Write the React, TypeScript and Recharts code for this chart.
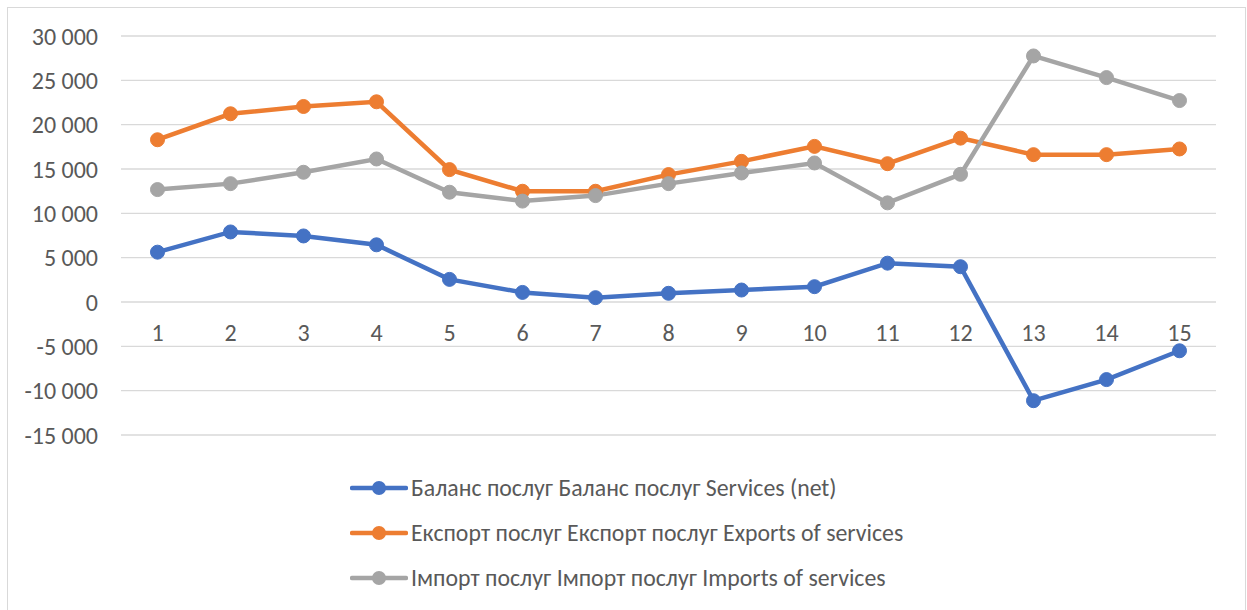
import React from 'react';
import { LineChart, Line, XAxis, YAxis, CartesianGrid, Legend } from 'recharts';

const categories = ['1', '2', '3', '4', '5', '6', '7', '8', '9', '10', '11', '12', '13', '14', '15'];
const balance = [5620, 7900, 7450, 6450, 2550, 1080, 490, 980, 1350, 1730, 4380, 3980, -11130, -8750, -5500];
const exportsSvc = [18300, 21230, 22050, 22580, 14930, 12490, 12490, 14370, 15860, 17550, 15600, 18480, 16620, 16620, 17260];
const importsSvc = [12680, 13350, 14630, 16130, 12380, 11380, 12000, 13350, 14550, 15680, 11180, 14400, 27750, 25310, 22720];
const yTicks = [-15000, -10000, -5000, 0, 5000, 10000, 15000, 20000, 25000, 30000];

const seriesNames = [
    'Баланс послуг Баланс послуг Services (net)',
    'Експорт послуг Експорт послуг Exports of services',
    'Імпорт послуг Імпорт послуг Imports of services',
];

const COLORS = ['#4472C4', '#ED7D31', '#A5A5A5'];
const TEXT = '#595959';
const FONT = 'Carlito, Calibri, Lato, sans-serif';

const data = categories.map((c, i) => ({
    name: c,
    balance: balance[i],
    exports: exportsSvc[i],
    imports: importsSvc[i],
}));

const fmt = (n: number) => {
    const s = Math.abs(n).toString().replace(/\B(?=(\d{3})+(?!\d))/g, ' ');
    return (n < 0 ? '-' : '') + s;
};

// category labels sit next to the zero line, like Excel does
const XTick = (props: any) => {
    const { x, y, payload } = props;
    return (
        <text x={x} y={y} dy={-102} textAnchor="middle" fill={TEXT} fontSize={24} fontFamily={FONT}>
            {payload.value}
        </text>
    );
};

const renderLegend = (props: any) => {
    const items = [...(props.payload || [])].sort(
        (a: any, b: any) => seriesNames.indexOf(a.value) - seriesNames.indexOf(b.value)
    );
    return (
        <div>
            {items.map((entry: any, index: number) => (
                <div key={`item-${index}`} style={{ display: 'flex', alignItems: 'center', height: 45 }}>
                    <svg width={58} height={16}>
                        <line x1={2} x2={56} y1={8} y2={8} stroke={entry.color} strokeWidth={4.5} strokeLinecap="round" />
                        <circle cx={29} cy={8} r={7} fill={entry.color} />
                    </svg>
                    <span style={{ marginLeft: 3, fontSize: 23.8, color: TEXT, fontFamily: FONT, whiteSpace: 'nowrap' }}>
                        {entry.value}
                    </span>
                </div>
            ))}
        </div>
    );
};

const App = () => {
    return (
        <div style={{ position: 'absolute', left: 0, top: 0, width: 1247, height: 610, background: '#fff', overflow: 'hidden' }}>
            <div
                style={{
                    position: 'absolute',
                    left: 7,
                    top: 7,
                    width: 1239,
                    height: 620,
                    border: '1px solid #d9d9d9',
                    boxSizing: 'border-box',
                }}
            />
            <div style={{ position: 'absolute', left: 0, top: 0 }}>
                <LineChart width={1247} height={610} data={data} margin={{ top: 36, right: 31, bottom: 10, left: 0 }}>
                    <CartesianGrid vertical={false} stroke="#d9d9d9" strokeWidth={1.3} />
                    <XAxis
                        dataKey="name"
                        axisLine={false}
                        tickLine={false}
                        tick={<XTick />}
                        interval={0}
                        padding={{ left: 36.5, right: 36.5 }}
                    />
                    <YAxis
                        width={121}
                        domain={[-15000, 30000]}
                        ticks={yTicks}
                        tickFormatter={fmt}
                        axisLine={false}
                        tickLine={false}
                        tickSize={0}
                        tickMargin={23}
                        tick={{ fill: TEXT, fontSize: 24, fontFamily: FONT }}
                        interval={0}
                    />
                    <Legend
                        content={renderLegend}
                        verticalAlign="bottom"
                        wrapperStyle={{ left: 350, top: 465, bottom: 'auto', right: 'auto', width: 'auto' }}
                    />
                    <Line
                        name={seriesNames[0]}
                        dataKey="balance"
                        stroke={COLORS[0]}
                        strokeWidth={4.5}
                        dot={{ r: 7, fill: COLORS[0], stroke: COLORS[0], strokeWidth: 1 }}
                        activeDot={false}
                        isAnimationActive={false}
                    />
                    <Line
                        name={seriesNames[1]}
                        dataKey="exports"
                        stroke={COLORS[1]}
                        strokeWidth={4.5}
                        dot={{ r: 7, fill: COLORS[1], stroke: COLORS[1], strokeWidth: 1 }}
                        activeDot={false}
                        isAnimationActive={false}
                    />
                    <Line
                        name={seriesNames[2]}
                        dataKey="imports"
                        stroke={COLORS[2]}
                        strokeWidth={4.5}
                        dot={{ r: 7, fill: COLORS[2], stroke: COLORS[2], strokeWidth: 1 }}
                        activeDot={false}
                        isAnimationActive={false}
                    />
                </LineChart>
            </div>
        </div>
    );
};

export default App;
